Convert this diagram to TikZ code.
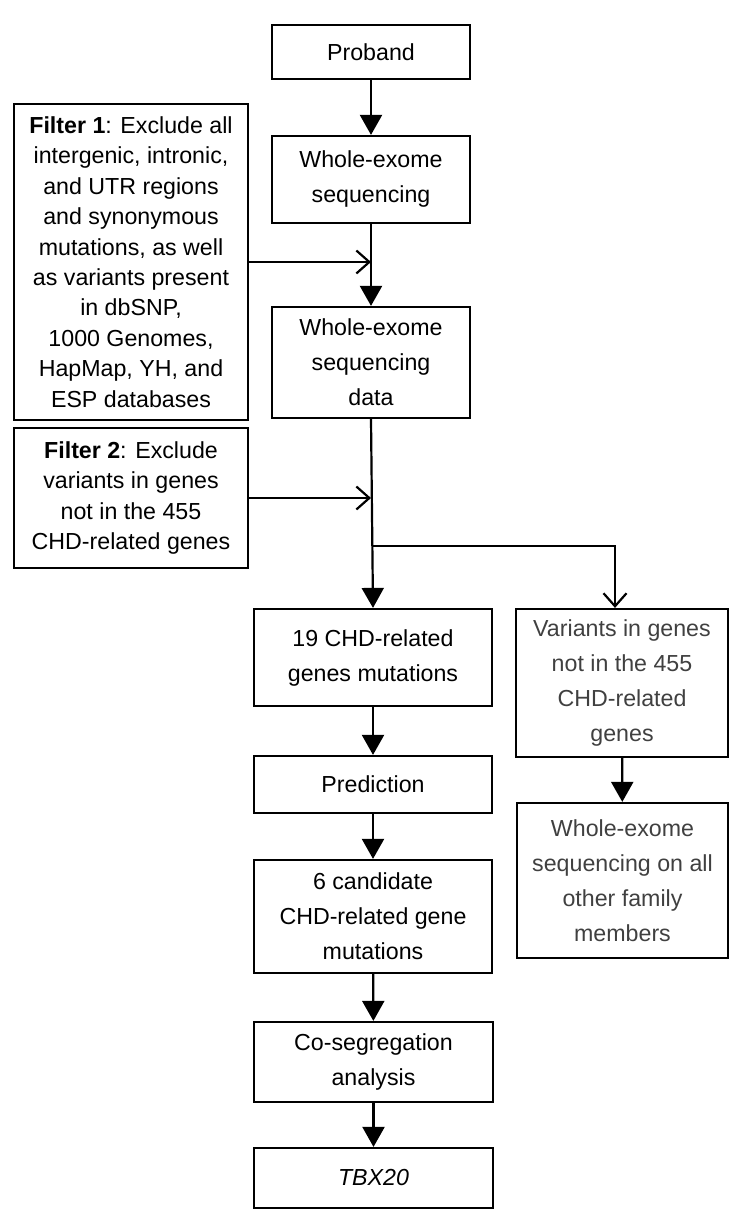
\documentclass[tikz,border=0pt]{standalone}
\usepackage{fontspec}
\setmainfont{Liberation Sans}
\usetikzlibrary{arrows.meta}
\usetikzlibrary{calc}
\definecolor{grisTexte}{HTML}{404040}

\begin{document}
\begin{tikzpicture}[x=0.5pt,y=-0.5pt,
        boite/.style={draw,line width=1.1pt,align=center,inner sep=0pt,
            font=\fontsize{11.6pt}{17.5pt}\selectfont},
        filtre/.style={boite,font=\fontsize{11.6pt}{15.2pt}\selectfont},
        boitegrise/.style={boite,text=grisTexte},
        fleche/.style={line width=1.1pt,-{Triangle[width=11pt,length=10pt]}},
        flechefine/.style={line width=1.1pt,-{Straight Barb[width=11.5pt,length=6.5pt,line width=1.1pt]}}]
    \useasboundingbox (0,0) rectangle (750,1224);
    % colonne principale
    \node[boite,minimum width=99pt,minimum height=27pt] (P) at (371,52) {Proband};
    \node[boite,minimum width=99pt,minimum height=43.5pt] (W) at (371,179.5) {Whole-exome\\sequencing};
    \node[boite,minimum width=99pt,minimum height=55.5pt] (D) at (371,362.5) {Whole-exome\\sequencing\\data};
    \node[boite,minimum width=119pt,minimum height=48.5pt] (G) at (373,657.5) {19 CHD-related\\genes mutations};
    \node[boite,minimum width=119pt,minimum height=28.5pt] (Pr) at (373,784.5) {Prediction};
    \node[boite,minimum width=119pt,minimum height=56.5pt] (C) at (373,916.5) {6 candidate\\CHD-related gene\\mutations};
    \node[boite,minimum width=119.5pt,minimum height=40pt] (S) at (373.5,1062) {Co-segregation\\analysis};
    \node[boite,minimum width=119.5pt,minimum height=30pt] (T) at (373.5,1178) {\textit{TBX20}};
    % filtres
    \node[filtre,minimum width=117pt,minimum height=158pt] (F1) at (131,262)
        {\textbf{Filter 1}: Exclude all\\intergenic, intronic,\\and UTR regions\\and synonymous\\mutations, as well\\as variants present\\in dbSNP,\\1000 Genomes,\\HapMap, YH, and\\ESP databases};
    \node[filtre,minimum width=117pt,minimum height=70pt] (F2) at (131,498)
        {\textbf{Filter 2}: Exclude\\variants in genes\\not in the 455\\CHD-related genes};
    % colonne de droite
    \node[boitegrise,minimum width=106pt,minimum height=74pt] (V) at (622,683) {Variants in genes\\not in the 455\\CHD-related\\genes};
    \node[boitegrise,minimum width=105.5pt,minimum height=77.5pt] (A) at (622.5,880.5) {Whole-exome\\sequencing on all\\other family\\members};
    \coordinate (emb) at (372,546);
    % connexions
    \draw[fleche] (P) -- (W);
    \draw[fleche] (W) -- (D);
    \draw[flechefine] (F1.east) -- (F1.east -| W.south);
    \draw[flechefine] (F2.east) -- (F2.east -| D.south);
    \draw[fleche] (D.south) -- (G.north);
    \draw[flechefine] (emb) -| ([xshift=-3.5pt]V.north);
    \draw[fleche] (G) -- (Pr);
    \draw[fleche] (Pr) -- (C);
    \draw[fleche] (C) -- (S);
    \draw[fleche] (S) -- (T);
    \draw[fleche] (V) -- (A);
\end{tikzpicture}
\end{document}
